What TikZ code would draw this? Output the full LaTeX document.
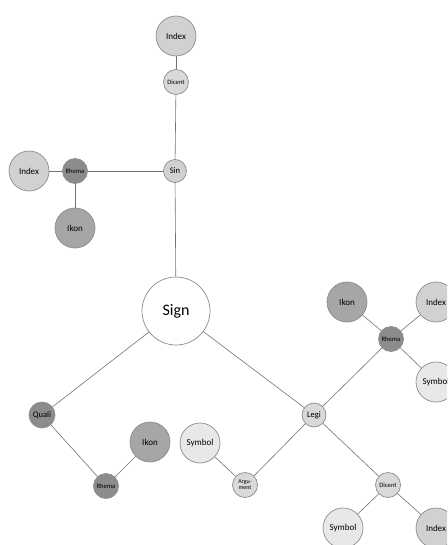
\documentclass[tikz,border=0pt]{standalone}
\usepackage{fontspec}
\setmainfont{Carlito}
\begin{document}
\begin{tikzpicture}[x=1pt,y=-1pt,
  nd/.style={circle,draw=black!45,line width=0.7pt,inner sep=0pt,align=center},
  big/.style={nd,minimum size=40pt,font=\fontsize{9}{10}\selectfont},
  mid/.style={nd,minimum size=24pt,font=\fontsize{8.5}{9}\selectfont},
  sml/.style={nd,minimum size=25pt,font=\fontsize{6.6}{6.6}\selectfont},
  cIndex/.style={fill=black!18},
  cIkon/.style={fill=black!35},
  cRhema/.style={fill=black!45},
  cSym/.style={fill=black!9},
  cLight/.style={fill=black!15},
  con/.style={draw=black!55,line width=0.6pt}]
\useasboundingbox (0,0) rectangle (447,545);
\clip (0,0) rectangle (447,545);
% nodes
\node[nd,minimum size=68pt,fill=white,font=\fontsize{16}{16}\selectfont] (sign) at (176,311) {Sign};
\node[big,cIndex] (indexT) at (176,36) {Index};
\node[sml,cLight] (dicentT) at (176,82) {Dicent};
\node[mid,cIndex,minimum size=23pt] (sin) at (175,171) {Sin};
\node[sml,cRhema] (rhemaL) at (75,171) {Rhema};
\node[big,cIndex] (indexL) at (29,171) {Index};
\node[big,cIkon] (ikonL) at (75,228) {Ikon};
\node[mid,cRhema,minimum size=26pt] (quali) at (42,415) {Quali};
\node[sml,cRhema] (rhemaB) at (106,486) {Rhema};
\node[big,cIkon] (ikonB) at (150,442) {Ikon};
\node[mid,cLight] (legi) at (314,415) {Legi};
\node[sml,cLight,font=\fontsize{6}{6}\selectfont] (argu) at (245,485) {Argu-\\ment};
\node[big,cSym] (symM) at (200,443) {Symbol};
\node[sml,cRhema] (rhemaR) at (391,339) {Rhema};
\node[big,cIkon] (ikonR) at (347,302) {Ikon};
\node[big,cIndex] (indexR) at (436,302) {Index};
\node[big,cSym] (symR) at (436,382) {Symbol};
\node[sml,cLight] (dicentB) at (388,485) {Dicent};
\node[big,cSym] (symB) at (343,528) {Symbol};
\node[big,cIndex] (indexB) at (436,528) {Index};
% connectors
\path[con] (indexT) -- (dicentT);
\path[con] (dicentT) -- (sin);
\path[con] (sin) -- (sign);
\path[con] (indexL) -- (rhemaL);
\path[con] (rhemaL) -- (sin);
\path[con] (rhemaL) -- (ikonL);
\path[con] (sign) -- (quali);
\path[con] (quali) -- (rhemaB);
\path[con] (rhemaB) -- (ikonB);
\path[con] (sign) -- (legi);
\path[con] (legi) -- (rhemaR);
\path[con] (rhemaR) -- (ikonR);
\path[con] (rhemaR) -- (indexR);
\path[con] (rhemaR) -- (symR);
\path[con] (legi) -- (argu);
\path[con] (argu) -- (symM);
\path[con] (legi) -- (dicentB);
\path[con] (dicentB) -- (symB);
\path[con] (dicentB) -- (indexB);
\end{tikzpicture}
\end{document}
